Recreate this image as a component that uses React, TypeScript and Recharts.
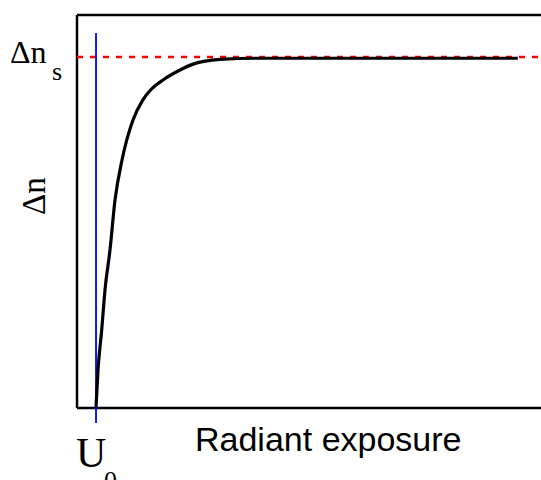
import React from "react";
import { LineChart, Line, XAxis, YAxis, ReferenceLine } from "recharts";

// radiant exposure (arbitrary units) vs refractive index change
const exposure = [4.1, 4.53, 5.32, 6.03, 7.11, 8.19, 9.7, 12.07, 14.2, 16.0, 18.7, 22.2, 25.0, 30.8, 39.4, 60, 95];
const deltaN = [0.3, 9.7, 19.8, 30.0, 40.2, 52.9, 63.1, 73.3, 78.4, 81.1, 83.6, 86.0, 87.5, 88.7, 89.0, 89.0, 89.0];

const saturation = 89.3; // Δn_s
const threshold = 4.1; // U_0

const data = exposure.map((x, i) => ({ x, y: deltaN[i] }));

export default function App() {
  return (
    <div style={{ position: "absolute", left: 0, top: 0, width: 541, height: 480, background: "#fff" }}>
      <LineChart width={541} height={480} data={data} margin={{ top: 15, right: 0, bottom: 0, left: 0 }}>
        <XAxis type="number" dataKey="x" domain={[0, 100]} tick={false} tickLine={false} axisLine={false} height={72} />
        <YAxis type="number" domain={[0, 100]} tick={false} tickLine={false} axisLine={false} width={77} />
        <ReferenceLine y={100} stroke="#000" strokeWidth={2.5} />
        <ReferenceLine y={0} stroke="#000" strokeWidth={2.5} />
        <ReferenceLine x={0} stroke="#000" strokeWidth={2.5} />
        <ReferenceLine y={saturation} stroke="#ff0000" strokeWidth={2.5} strokeDasharray="6 7" />
        <ReferenceLine
          segment={[
            { x: threshold, y: 95.4 },
            { x: threshold, y: -3.8 },
          ]}
          ifOverflow="visible"
          stroke="#0000ff"
          strokeWidth={1.8}
        />
        <Line
          type="monotone"
          dataKey="y"
          stroke="#000"
          strokeWidth={3.2}
          dot={false}
          isAnimationActive={false}
        />
      </LineChart>
      <svg
        width={541}
        height={480}
        style={{ position: "absolute", left: 0, top: 0, pointerEvents: "none" }}
      >
        <text x={10} y={63} fontFamily="Liberation Serif" fontSize={32} fill="#000">
          Δn
        </text>
        <text x={52} y={80} fontFamily="Liberation Serif" fontSize={26} fill="#000">
          s
        </text>
        <text
          x={45}
          y={196}
          transform="rotate(-90 45 196)"
          textAnchor="middle"
          fontFamily="Liberation Serif"
          fontSize={33}
          fill="#000"
        >
          Δn
        </text>
        <text x={76} y={467} fontFamily="Liberation Serif" fontSize={42} fill="#000">
          U
        </text>
        <text x={104} y={489} fontFamily="Liberation Serif" fontSize={26} fill="#000">
          0
        </text>
        <text x={195} y={451} fontFamily="Liberation Sans" fontSize={34} fill="#000">
          Radiant exposure
        </text>
      </svg>
    </div>
  );
}
